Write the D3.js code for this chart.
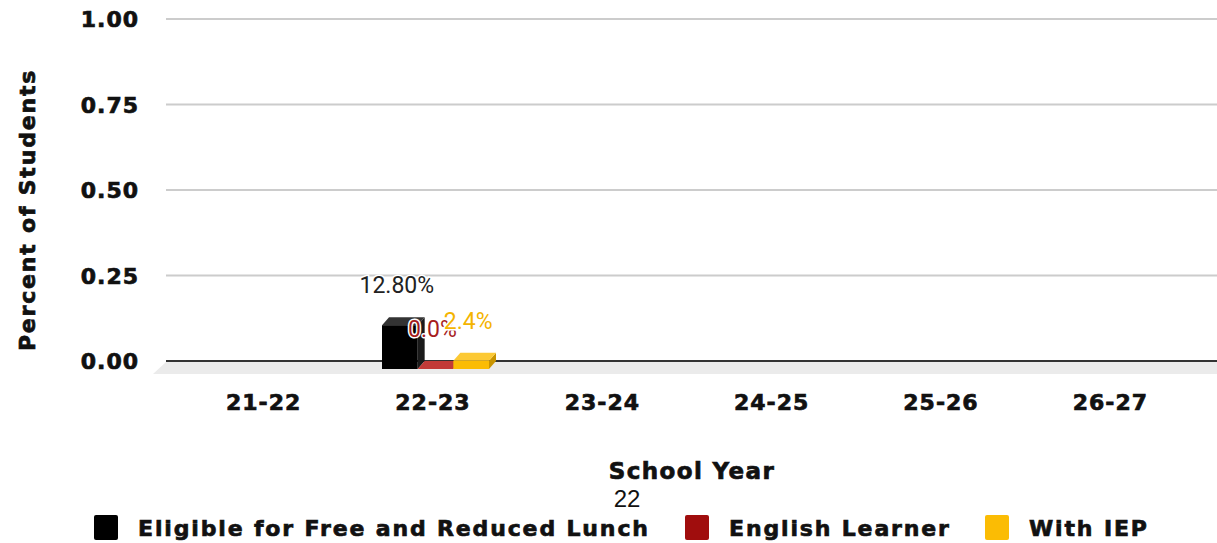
<!DOCTYPE html>
<html>
<head>
<meta charset="utf-8">
<script src="https://cdn.jsdelivr.net/npm/d3@7"></script>
<style>
  body { margin: 0; background: #fff; }
  svg text { font-family: "DejaVu Sans", sans-serif; }
  svg text.heavy { font-weight: bold; fill: #111; stroke: #111; stroke-width: 0.7px; }
</style>
</head>
<body>
<div id="chart"></div>
<script>
// data
var years = ["21-22", "22-23", "23-24", "24-25", "25-26", "26-27"];
var seriesNames = ["Eligible for Free and Reduced Lunch", "English Learner", "With IEP"];
var frl = [null, 0.128, null, null, null, null];
var el  = [null, 0.0,   null, null, null, null];
var iep = [null, 0.024, null, null, null, null];
var barLabels = [
  [null, "12.80%", null, null, null, null],
  [null, "0.0%",   null, null, null, null],
  [null, "2.4%",   null, null, null, null]
];
var yTicks = [0, 0.25, 0.5, 0.75, 1];
var footNote = "22";

var frontCol = ["#000000", "#b0211f", "#fbbc04"];
var topCol   = ["#333333", "#c23a37", "#fcc934"];
var sideCol  = ["#1a1a1a", "#8a1512", "#c99400"];
var legendCol = ["#000000", "#a00d0d", "#fbbc04"];
var labelCol = ["#222222", "#a61d1d", "#f4b400"];

var W = 1217, H = 543;
var dx = 7, dy = 8; // depth of the 3d bars

var svg = d3.select("#chart").append("svg")
    .attr("width", W).attr("height", H);

var y = d3.scaleLinear().domain([0, 1]).range([361, 19]);
var x = d3.scaleBand().domain(years).range([179, 1195]);
var inner = d3.scaleBand().domain([0, 1, 2]).range([0, 107]);

// floor
svg.append("path")
  .attr("d", "M166,362 L1217,362 L1217,374 L153,374 Z")
  .attr("fill", "#ebebeb");

// gridlines
svg.append("g").selectAll("line")
  .data(yTicks.filter(function(d){ return d > 0; }))
  .enter().append("line")
  .attr("x1", 166).attr("x2", W)
  .attr("y1", function(d){ return y(d); })
  .attr("y2", function(d){ return y(d); })
  .attr("stroke", "#cccccc").attr("stroke-width", 2);

svg.append("line")
  .attr("x1", 166).attr("x2", W)
  .attr("y1", y(0)).attr("y2", y(0))
  .attr("stroke", "#333").attr("stroke-width", 2);

// y tick labels
svg.append("g").selectAll("text")
  .data(yTicks).enter().append("text")
  .attr("class", "heavy")
  .attr("x", 139).attr("y", function(d){ return y(d) + 8; })
  .attr("text-anchor", "end")
  .attr("font-size", 22)
  .attr("letter-spacing", 1)
  .text(function(d){ return d3.format(".2f")(d); });

// y title
svg.append("text")
  .attr("class", "heavy")
  .attr("transform", "translate(35,210) rotate(-90)")
  .attr("text-anchor", "middle")
  .attr("font-size", 22)
  .attr("letter-spacing", 1.8)
  .text("Percent of Students");

// x labels
svg.append("g").selectAll("text")
  .data(years).enter().append("text")
  .attr("class", "heavy")
  .attr("x", function(d){ return x(d) + x.bandwidth() / 2; })
  .attr("y", 410)
  .attr("text-anchor", "middle")
  .attr("font-size", 22)
  .attr("letter-spacing", 1)
  .text(function(d){ return d; });

svg.append("text")
  .attr("class", "heavy")
  .attr("x", 692).attr("y", 479)
  .attr("text-anchor", "middle")
  .attr("font-size", 23)
  .attr("letter-spacing", 1.4)
  .text("School Year");

svg.append("text")
  .attr("x", 627).attr("y", 507)
  .attr("text-anchor", "middle")
  .style("font-family", "'Liberation Sans', Arial, sans-serif")
  .attr("font-size", 24)
  .attr("fill", "#111")
  .text(footNote);

// bars
var series = [frl, el, iep];
var bars = [];
series.forEach(function(vals, s) {
  vals.forEach(function(v, i) {
    if (v === null) return;
    bars.push({ s: s, i: i, v: v });
  });
});

var barG = svg.append("g");
bars.forEach(function(b) {
  var cx = x(years[b.i]) + x.bandwidth() / 2 - 51;
  var x0 = cx + inner(b.s);
  var x1 = x0 + inner.bandwidth();
  var yb = y(0) + dy;          // front bottom
  var yt = y(b.v) + dy;        // front top
  // side
  barG.append("path")
    .attr("d", "M" + x1 + "," + yt + " L" + (x1 + dx) + "," + (yt - dy) +
      " L" + (x1 + dx) + "," + (yb - dy) + " L" + x1 + "," + yb + " Z")
    .attr("fill", sideCol[b.s]);
  // top
  barG.append("path")
    .attr("d", "M" + x0 + "," + yt + " L" + (x0 + dx) + "," + (yt - dy) +
      " L" + (x1 + dx) + "," + (yt - dy) + " L" + x1 + "," + yt + " Z")
    .attr("fill", topCol[b.s]);
  // front
  if (yb - yt > 0) {
    barG.append("rect")
      .attr("x", x0).attr("y", yt)
      .attr("width", inner.bandwidth()).attr("height", yb - yt)
      .attr("fill", frontCol[b.s]);
  }
  b.lx = (x0 + x1) / 2 - 3;
  b.ly = yt - dy - 24;
});

// value labels
svg.append("g").selectAll("text")
  .data(bars).enter().append("text")
  .attr("x", function(d){ return d.lx; })
  .attr("y", function(d){ return d.ly; })
  .attr("text-anchor", "middle")
  .style("font-family", "Roboto, sans-serif")
  .attr("font-size", 23)
  .attr("fill", function(d){ return labelCol[d.s]; })
  .attr("stroke", "#fff").attr("stroke-width", 3)
  .attr("paint-order", "stroke")
  .text(function(d){ return barLabels[d.s][d.i]; });

// legend
var legX = [94, 685, 985];
var leg = svg.append("g").selectAll("g")
  .data(seriesNames).enter().append("g")
  .attr("transform", function(d, i){ return "translate(" + legX[i] + ",515)"; });
leg.append("rect")
  .attr("width", 24).attr("height", 25).attr("rx", 2)
  .attr("fill", function(d, i){ return legendCol[i]; });
leg.append("text")
  .attr("class", "heavy")
  .attr("x", 44).attr("y", 21)
  .attr("font-size", 22)
  .attr("letter-spacing", 1.85)
  .text(function(d){ return d; });
</script>
</body>
</html>
